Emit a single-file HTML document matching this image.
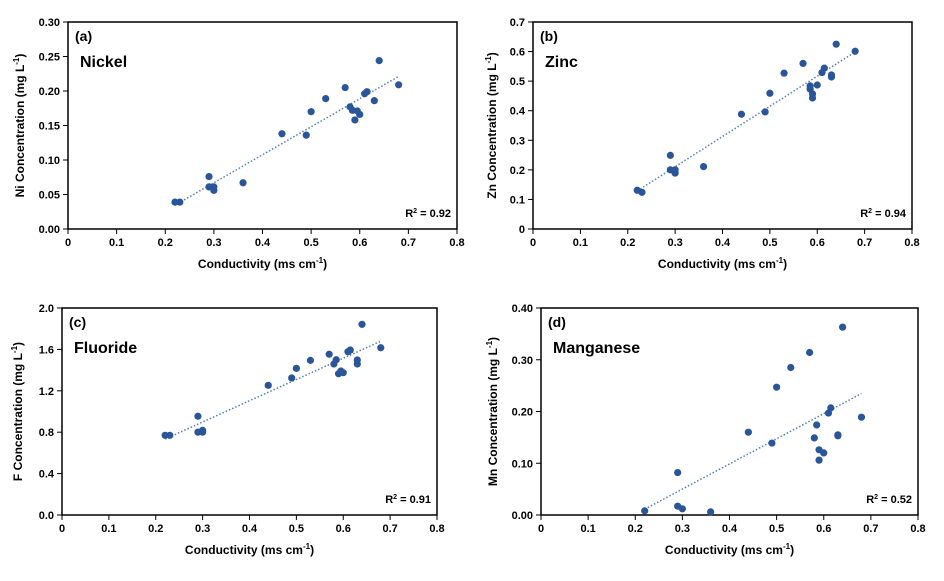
<!DOCTYPE html>
<html><head><meta charset="utf-8"><style>
body{margin:0;background:#fff;width:944px;height:576px;overflow:hidden}
svg{font-family:"Liberation Sans",sans-serif}
</style></head><body>
<svg id="c" width="944" height="576"></svg>
<script>
const xs=[0.22,0.23,0.29,0.29,0.30,0.30,0.36,0.44,0.49,0.50,0.53,0.57,0.58,0.585,0.595,0.59,0.60,0.61,0.615,0.63,0.64,0.68];
const niVals=[0.039,0.039,0.076,0.061,0.061,0.056,0.067,0.138,0.136,0.170,0.189,0.205,0.177,0.172,0.171,0.158,0.166,0.196,0.199,0.186,0.244,0.209];
const znX=[0.22,0.23,0.29,0.29,0.30,0.30,0.36,0.44,0.49,0.50,0.53,0.57,0.585,0.585,0.59,0.59,0.60,0.61,0.615,0.63,0.63,0.64,0.68];
const znVals=[0.131,0.124,0.249,0.200,0.200,0.189,0.211,0.388,0.396,0.459,0.527,0.560,0.484,0.473,0.457,0.443,0.487,0.529,0.544,0.521,0.514,0.625,0.601];
const fX=[0.22,0.23,0.29,0.29,0.30,0.30,0.44,0.49,0.50,0.53,0.57,0.585,0.58,0.595,0.59,0.60,0.61,0.615,0.63,0.63,0.64,0.68];
const fVals=[0.77,0.77,0.954,0.80,0.818,0.80,1.253,1.324,1.417,1.494,1.553,1.50,1.459,1.391,1.365,1.375,1.578,1.594,1.498,1.459,1.842,1.616];
const mnX=[0.22,0.29,0.29,0.30,0.36,0.44,0.49,0.50,0.53,0.57,0.585,0.58,0.59,0.59,0.60,0.61,0.615,0.63,0.63,0.64,0.68];
const mnVals=[0.008,0.082,0.017,0.012,0.006,0.160,0.139,0.247,0.285,0.314,0.174,0.149,0.126,0.106,0.120,0.197,0.207,0.155,0.153,0.363,0.189];
const xTicks=["0","0.1","0.2","0.3","0.4","0.5","0.6","0.7","0.8"];
const niTicks=["0.00","0.05","0.10","0.15","0.20","0.25","0.30"];
const znTicks=["0","0.1","0.2","0.3","0.4","0.5","0.6","0.7"];
const fTicks=["0.0","0.4","0.8","1.2","1.6","2.0"];
const mnTicks=["0.00","0.10","0.20","0.30","0.40"];

const NS="http://www.w3.org/2000/svg",svg=document.getElementById('c');
function el(t,a,p){const e=document.createElementNS(NS,t);for(const k in a)e.setAttribute(k,a[k]);(p||svg).appendChild(e);return e;}
function panel(o){
 const g=el('g',{});
 
 
 const ymax=parseFloat(o.yt[o.yt.length-1]);
 const X=v=>o.l+(o.r-o.l)*v/0.8, Y=v=>o.b-(o.b-o.t)*v/ymax;
 const fr=el('rect',{x:o.l,y:o.t,width:o.r-o.l,height:o.b-o.t,fill:'none',stroke:'#000','stroke-width':1.5},g);
 
 
 xTicks.forEach((s,i)=>{const x=X(parseFloat(s));el('line',{x1:x,x2:x,y1:o.b,y2:o.b+5,stroke:'#000'},g);
  const t=el('text',{x:x,y:o.b+17,'text-anchor':'middle','font-size':11,'font-weight':'bold'},g);t.textContent=s;
  
  });
 o.yt.forEach(s=>{const y=Y(parseFloat(s));el('line',{x1:o.l-5,x2:o.l,y1:y,y2:y,stroke:'#000'},g);
  const t=el('text',{x:o.l-8,y:y+4,'text-anchor':'end','font-size':11,'font-weight':'bold'},g);t.textContent=s;
  
  });
 // regression
 const n=o.xs.length;let sx=0,sy=0,sxx=0,sxy=0;
 for(let i=0;i<n;i++){sx+=o.xs[i];sy+=o.ys[i];sxx+=o.xs[i]*o.xs[i];sxy+=o.xs[i]*o.ys[i];}
 const m=(n*sxy-sx*sy)/(n*sxx-sx*sx),c=(sy-m*sx)/n;
 const x0=Math.min(...o.xs),x1=Math.max(...o.xs);
 const tl=el('line',{x1:X(x0),y1:Y(m*x0+c),x2:X(x1),y2:Y(m*x1+c),stroke:'#4f81bd','stroke-width':1.5,'stroke-dasharray':'1.5 2'},g);
 
 
 for(let i=0;i<n;i++){const p=el('circle',{cx:X(o.xs[i]),cy:Y(o.ys[i]),r:3.6,fill:'#2a5699'},g);
  
  }
 const L=el('text',{x:o.l+7,y:o.t+19,'font-size':14,'font-weight':'bold'},g);L.textContent=o.tag;
 
 
 const N=el('text',{x:o.l+12,y:o.t+45,'font-size':16,'font-weight':'bold'},g);N.textContent=o.name;
 
 
 const R=el('text',{x:o.r-6,y:o.b-12,'text-anchor':'end','font-size':11,'font-weight':'bold'},g);
 R.innerHTML='R<tspan font-size="7" dy="-4">2</tspan><tspan dy="4"> = '+o.r2+'</tspan>';
 
 
 const XT=el('text',{x:(o.l+o.r)/2,y:o.b+39,'text-anchor':'middle','font-size':12,'font-weight':'bold'},g);
 XT.innerHTML='Conductivity (ms cm<tspan font-size="8" dy="-5">-1</tspan><tspan dy="5">)</tspan>';
 
 
 const cy=(o.t+o.b)/2;
 const YT=el('text',{x:o.yx,y:cy,'text-anchor':'middle','font-size':12,'font-weight':'bold',transform:`rotate(-90 ${o.yx} ${cy})`},g);
 YT.innerHTML=o.el+' Concentration (mg L<tspan font-size="8" dy="-5">-1</tspan><tspan dy="5">)</tspan>';
 
 
}
panel({id:'nickel',l:68,r:457,t:22,b:229,yt:niTicks,xs:xs,ys:niVals,tag:'(a)',name:'Nickel',r2:'0.92',el:'Ni',yx:24});
panel({id:'zinc',l:533,r:912,t:22,b:229,yt:znTicks,xs:znX,ys:znVals,tag:'(b)',name:'Zinc',r2:'0.94',el:'Zn',yx:496});
panel({id:'fluoride',l:62,r:437,t:308,b:515,yt:fTicks,xs:fX,ys:fVals,tag:'(c)',name:'Fluoride',r2:'0.91',el:'F',yx:22});
panel({id:'manganese',l:541,r:918,t:308,b:515,yt:mnTicks,xs:mnX,ys:mnVals,tag:'(d)',name:'Manganese',r2:'0.52',el:'Mn',yx:497});
</script>
</body></html>
